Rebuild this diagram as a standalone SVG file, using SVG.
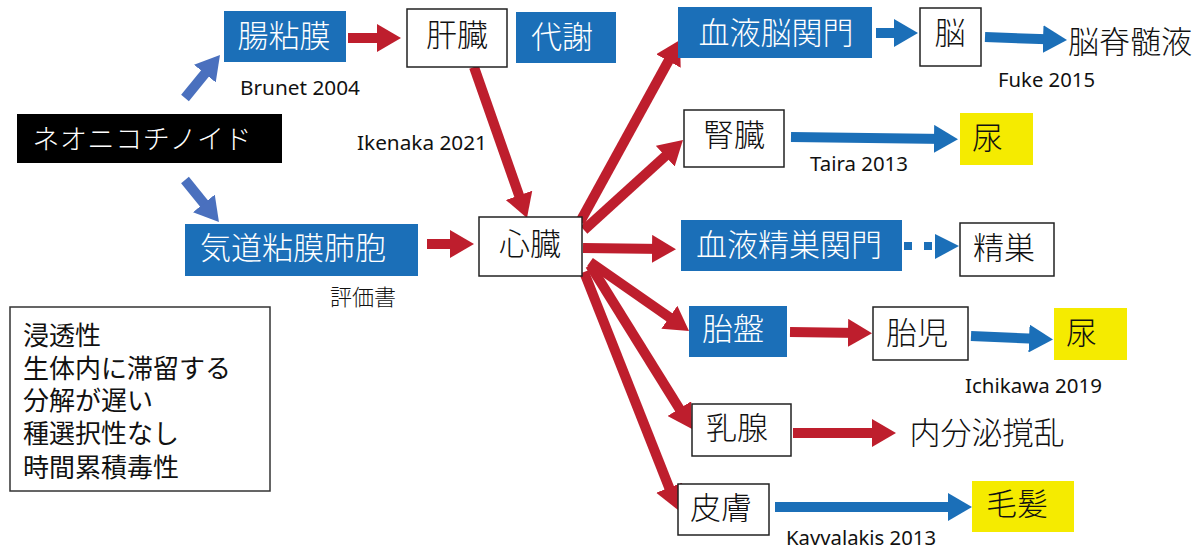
<svg xmlns="http://www.w3.org/2000/svg" width="1195" height="549" viewBox="0 0 1195 549">
<style>
.bb{fill:#1B6FB8}
.wb{fill:#fff;stroke:#222;stroke-width:1.5}
.yb{fill:#F5EB00}
.jw{font-family:"Noto Sans CJK JP",sans-serif;font-size:31px;font-weight:300;fill:#fff;text-anchor:middle}
.jk{font-family:"Noto Sans CJK JP",sans-serif;font-size:31px;font-weight:300;fill:#111;text-anchor:middle}
.js{font-family:"Noto Sans CJK JP",sans-serif;font-size:31px;font-weight:300;fill:#111;text-anchor:start}
.lt{font-family:"Noto Sans","Liberation Sans",sans-serif;font-size:20px;fill:#111}
.lst{font-family:"Noto Sans CJK JP",sans-serif;font-size:26px;fill:#111}
.r{stroke:#BE1E2D;stroke-width:10;fill:none;marker-end:url(#hr)}
.b{stroke:#1B6FB8;stroke-width:10;fill:none;marker-end:url(#hb)}
.lb{stroke:#4A70BE;stroke-width:10;fill:none;marker-end:url(#hl)}
</style>
<defs>
<marker id="hr" markerUnits="userSpaceOnUse" markerWidth="24" markerHeight="28" refX="12" refY="14" orient="auto" viewBox="0 0 24 28"><path d="M0,0 L24,14 L0,28 z" fill="#BE1E2D"/></marker>
<marker id="hb" markerUnits="userSpaceOnUse" markerWidth="24" markerHeight="28" refX="12" refY="14" orient="auto" viewBox="0 0 24 28"><path d="M0,0 L24,14 L0,28 z" fill="#1B6FB8"/></marker>
<marker id="hl" markerUnits="userSpaceOnUse" markerWidth="24" markerHeight="28" refX="12" refY="14" orient="auto" viewBox="0 0 24 28"><path d="M0,0 L24,14 L0,28 z" fill="#4A70BE"/></marker>
</defs>
<rect width="1195" height="549" fill="#fff"/>

<g id="connectors">
<line class="lb" x1="185" y1="98" x2="212.4" y2="64.3"/>
<line class="lb" x1="185" y1="180" x2="211.4" y2="212.7"/>
<line class="r" x1="348" y1="38" x2="389" y2="38"/>
<line class="r" x1="474" y1="67" x2="523" y2="206.7"/>
<line class="r" x1="427" y1="244" x2="462" y2="244" stroke-width="8"/>
<line class="r" x1="580" y1="222" x2="674.2" y2="50.5"/>
<line class="r" x1="584" y1="230" x2="674.1" y2="148.1"/>
<line class="r" x1="583" y1="248" x2="664" y2="249"/>
<line class="r" x1="590" y1="262" x2="679.2" y2="324.1"/>
<line class="r" x1="590" y1="265" x2="685.7" y2="418.8"/>
<line class="r" x1="584" y1="272" x2="673.6" y2="498.8"/>
<line class="b" x1="876" y1="33" x2="906" y2="33"/>
<line class="b" x1="985" y1="37" x2="1055" y2="39.6"/>
<line class="b" x1="791" y1="137" x2="946" y2="139"/>
<rect x="904" y="242" width="8" height="8" fill="#1B6FB8"/>
<rect x="924" y="242" width="8" height="8" fill="#1B6FB8"/>
<path d="M935,234 L959,246 L935,259 z" fill="#1B6FB8"/>
<line class="r" x1="790" y1="332" x2="860" y2="333"/>
<line class="b" x1="971" y1="336" x2="1041" y2="339"/>
<line class="r" x1="793" y1="433" x2="884" y2="433"/>
<line class="b" x1="775" y1="507" x2="960" y2="507"/>
</g>

<g id="neonicotinoid"><rect x="17" y="114" width="265" height="49" fill="#000"/><text class="jw" x="142" y="149" style="font-size:27px" textLength="219" lengthAdjust="spacing">ネオニコチノイド</text></g>
<g id="chonenmaku"><rect class="bb" x="224" y="11" width="122" height="51"/><text class="jw" x="284" y="47">腸粘膜</text></g>
<g id="kanzo"><rect class="wb" x="407" y="9" width="100" height="58"/><text class="jk" x="457" y="46">肝臓</text></g>
<g id="taisha"><rect class="bb" x="516" y="12" width="100" height="51"/><text class="jw" x="562" y="48">代謝</text></g>
<g id="bbb"><rect class="bb" x="678" y="7" width="194" height="51"/><text class="jw" x="776" y="44">血液脳関門</text></g>
<g id="no"><rect class="wb" x="920" y="8" width="61" height="58"/><text class="jk" x="950" y="44">脳</text></g>
<g id="csf"><text class="jk" x="1130" y="53">脳脊髄液</text></g>
<g id="jinzo"><rect class="wb" x="684" y="110" width="100" height="57"/><text class="jk" x="734" y="146">腎臓</text></g>
<g id="nyo1"><rect class="yb" x="960" y="113" width="73" height="52"/><text class="js" x="972" y="149">尿</text></g>
<g id="kido"><rect class="bb" x="185" y="224" width="233" height="52"/><text class="jw" x="293" y="259">気道粘膜肺胞</text></g>
<g id="shinzo"><rect class="wb" x="479" y="217" width="103" height="59"/><text class="jk" x="530" y="255">心臓</text></g>
<g id="btb"><rect class="bb" x="681" y="220" width="221" height="51"/><text class="jw" x="789" y="256">血液精巣関門</text></g>
<g id="seiso"><rect class="wb" x="960" y="223" width="94" height="53"/><text class="jk" x="1004" y="259">精巣</text></g>
<g id="taiban"><rect class="bb" x="689" y="306" width="98" height="51"/><text class="jw" x="733" y="340">胎盤</text></g>
<g id="taiji"><rect class="wb" x="873" y="307" width="95" height="53"/><text class="jk" x="917" y="344">胎児</text></g>
<g id="nyo2"><rect class="yb" x="1054" y="308" width="73" height="52"/><text class="js" x="1066" y="344">尿</text></g>
<g id="nyusen"><rect class="wb" x="692" y="404" width="99" height="52"/><text class="jk" x="737" y="439">乳腺</text></g>
<g id="naibunpi"><text class="jk" x="987" y="444">内分泌撹乱</text></g>
<g id="hifu"><rect class="wb" x="678" y="484" width="91" height="51"/><text class="jk" x="721" y="519">皮膚</text></g>
<g id="mohatsu"><rect class="yb" x="972" y="481" width="102" height="51"/><text class="jk" x="1017" y="515">毛髪</text></g>

<g id="labels">
<text class="lt" x="240" y="95" textLength="120" lengthAdjust="spacingAndGlyphs">Brunet 2004</text>
<text class="lt" x="357" y="150" textLength="130" lengthAdjust="spacingAndGlyphs">Ikenaka 2021</text>
<text class="lt" x="998" y="87" textLength="97" lengthAdjust="spacingAndGlyphs">Fuke 2015</text>
<text class="lt" x="810" y="171" textLength="98" lengthAdjust="spacingAndGlyphs">Taira 2013</text>
<text class="lt" x="965" y="393" textLength="137" lengthAdjust="spacingAndGlyphs">Ichikawa 2019</text>
<text class="lt" x="786" y="545" textLength="150" lengthAdjust="spacingAndGlyphs">Kavvalakis 2013</text>
<text x="330" y="305" font-family="Noto Sans CJK JP,sans-serif" font-size="22" font-weight="300" fill="#111">評価書</text>
</g>

<g id="properties">
<rect x="10" y="307" width="260" height="184" fill="#fff" stroke="#333" stroke-width="1.5"/>
<text class="lst" x="23" y="345">浸透性</text>
<text class="lst" x="23" y="378">生体内に滞留する</text>
<text class="lst" x="23" y="410">分解が遅い</text>
<text class="lst" x="23" y="443">種選択性なし</text>
<text class="lst" x="23" y="477">時間累積毒性</text>
</g>
</svg>
